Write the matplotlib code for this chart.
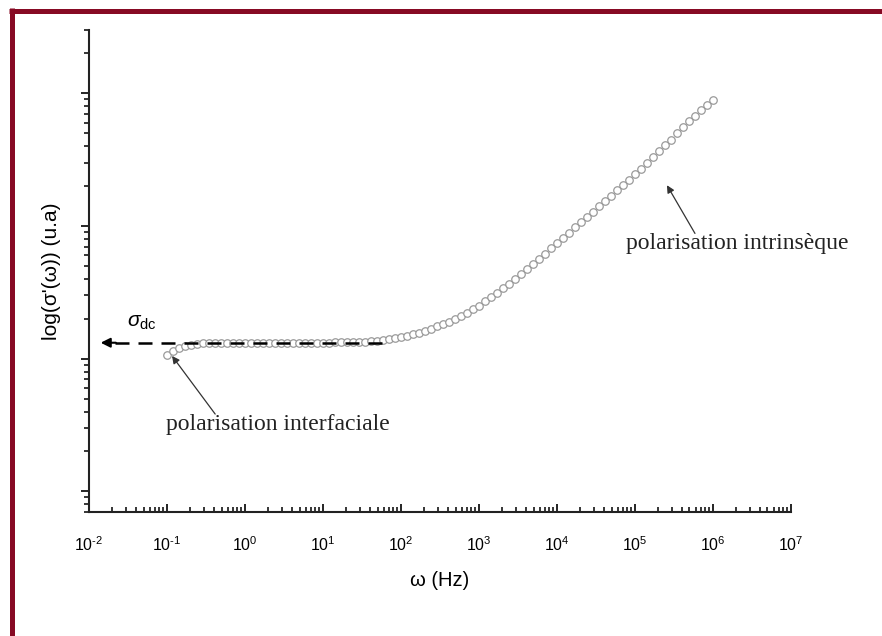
import matplotlib
matplotlib.use("Agg")
import matplotlib.pyplot as plt
import numpy as np
from matplotlib.lines import Line2D
from matplotlib.ticker import LogLocator, NullFormatter

plt.rcParams['font.family'] = ['Liberation Sans', 'DejaVu Sans']
plt.rcParams['mathtext.fontset'] = 'custom'
plt.rcParams['mathtext.rm'] = 'Liberation Sans'
plt.rcParams['mathtext.it'] = 'Liberation Sans:italic'
plt.rcParams['axes.unicode_minus'] = False

# frequency grid, log10(Hz)
log_freq = [
    -1.000, -0.923, -0.846, -0.769, -0.692, -0.615, -0.538, -0.462, -0.385, -0.308, -0.231, -0.154, -0.077,
    0.000, 0.077, 0.154, 0.231, 0.308, 0.385, 0.462, 0.538, 0.615, 0.692, 0.769, 0.846, 0.923,
    1.000, 1.077, 1.154, 1.231, 1.308, 1.385, 1.462, 1.538, 1.615, 1.692, 1.769, 1.846, 1.923,
    2.000, 2.077, 2.154, 2.231, 2.308, 2.385, 2.462, 2.538, 2.615, 2.692, 2.769, 2.846, 2.923,
    3.000, 3.077, 3.154, 3.231, 3.308, 3.385, 3.462, 3.538, 3.615, 3.692, 3.769, 3.846, 3.923,
    4.000, 4.077, 4.154, 4.231, 4.308, 4.385, 4.462, 4.538, 4.615, 4.692, 4.769, 4.846, 4.923,
    5.000, 5.077, 5.154, 5.231, 5.308, 5.385, 5.462, 5.538, 5.615, 5.692, 5.769, 5.846, 5.923,
    6.000,
]

# log10 of sigma'(w), arbitrary units
log_sigma = [
    1.030, 1.055, 1.078, 1.095, 1.107, 1.113, 1.116, 1.118, 1.119, 1.120, 1.120, 1.120, 1.120,
    1.120, 1.120, 1.120, 1.120, 1.120, 1.120, 1.120, 1.120, 1.121, 1.121, 1.121, 1.121, 1.122,
    1.122, 1.122, 1.123, 1.123, 1.123, 1.124, 1.125, 1.127, 1.130, 1.135, 1.140, 1.147, 1.155,
    1.163, 1.174, 1.185, 1.197, 1.211, 1.227, 1.244, 1.261, 1.280, 1.300, 1.321, 1.346, 1.372,
    1.400, 1.432, 1.464, 1.497, 1.531, 1.566, 1.602, 1.638, 1.676, 1.713, 1.752, 1.791, 1.831,
    1.870, 1.910, 1.950, 1.990, 2.030, 2.069, 2.109, 2.148, 2.188, 2.228, 2.268, 2.308, 2.349,
    2.390, 2.433, 2.476, 2.519, 2.563, 2.607, 2.652, 2.698, 2.744, 2.789, 2.832, 2.874, 2.914,
    2.952,
]

x_decades = [-2, -1, 0, 1, 2, 3, 4, 5, 6, 7]

sigma_dc = 13.2
dc_line_x = [0.0215, 62.4]

freq = 10 ** np.array(log_freq)
sigma = 10 ** np.array(log_sigma)

fig = plt.figure(figsize=(8.82, 6.36), dpi=100)
ax = fig.add_axes([0.1009, 0.195, 0.7959, 0.7578])

ax.plot(freq, sigma, linestyle='none', marker='o', markersize=5.4,
        markerfacecolor='white', markeredgecolor='#9a9a9a', markeredgewidth=0.9, zorder=2)

# sigma_dc dashed line with arrow
ax.plot(dc_line_x, [sigma_dc, sigma_dc], color='black', lw=1.8, dashes=(5.6, 3.6), zorder=3)
ax.annotate('', xy=(0.013, sigma_dc), xytext=(0.024, sigma_dc),
            arrowprops=dict(arrowstyle='-|>', color='black', lw=1.5, mutation_scale=14), zorder=4)
ax.text(0.0307, 18.7, r'$\sigma_{\mathrm{dc}}$', fontsize=15, ha='left', va='center')

ax.annotate('polarisation interfaciale', xy=(0.116, 10.5), xytext=(0.097, 3.19),
            fontsize=17, family=['Liberation Serif'], color='#222222', ha='left', va='center',
            arrowprops=dict(arrowstyle='-|>', color='#333333', lw=0.9, mutation_scale=11,
                            shrinkA=0, shrinkB=0, patchA=None, relpos=(0.22, 1.0)))
ax.annotate('polarisation intrinsèque', xy=(2.57e5, 203), xytext=(7.67e4, 73.3),
            fontsize=17, family=['Liberation Serif'], color='#222222', ha='left', va='center',
            arrowprops=dict(arrowstyle='-|>', color='#333333', lw=0.9, mutation_scale=11,
                            shrinkA=0, shrinkB=0, patchA=None, relpos=(0.31, 1.0)))

ax.set_xscale('log')
ax.set_yscale('log')
ax.set_xlim(1e-2, 1e7)
ax.set_ylim(0.7, 3000)

ax.set_xticks([10.0 ** e for e in x_decades])
ax.set_xticklabels([r'$10^{\text{%d}}$' % e for e in x_decades])
ax.xaxis.set_minor_locator(LogLocator(base=10, subs=np.arange(2, 10), numticks=20))
ax.yaxis.set_major_locator(LogLocator(base=10, numticks=20))
ax.yaxis.set_minor_locator(LogLocator(base=10, subs=np.arange(2, 10), numticks=20))
ax.yaxis.set_major_formatter(NullFormatter())
ax.yaxis.set_minor_formatter(NullFormatter())
ax.xaxis.set_minor_formatter(NullFormatter())

ax.tick_params(axis='x', which='major', direction='in', length=6, width=1.2, labelsize=11.5, pad=17)
ax.tick_params(axis='x', which='minor', direction='in', length=3.5, width=1.1)
ax.tick_params(axis='y', which='major', direction='out', length=6, width=1.2)
ax.tick_params(axis='y', which='minor', direction='out', length=3.5, width=1.1)

for side in ['top', 'right']:
    ax.spines[side].set_visible(False)
for side in ['left', 'bottom']:
    ax.spines[side].set_linewidth(1.5)
    ax.spines[side].set_color('#222222')

ax.set_xlabel('ω (Hz)', fontsize=14.5, labelpad=12)
ax.set_ylabel("log(σ'(ω)) (u.a)", fontsize=15, labelpad=11)

# dark red frame (top and left edges)
frame_color = '#870a24'
fig.add_artist(Line2D([9 / 882, 1.0], [1 - 10.5 / 636, 1 - 10.5 / 636], transform=fig.transFigure,
                      color=frame_color, lw=3.6, solid_capstyle='butt'))
fig.add_artist(Line2D([11.5 / 882, 11.5 / 882], [0.0, 1 - 8 / 636], transform=fig.transFigure,
                      color=frame_color, lw=3.6, solid_capstyle='butt'))

fig.savefig('out.png', dpi=100)
